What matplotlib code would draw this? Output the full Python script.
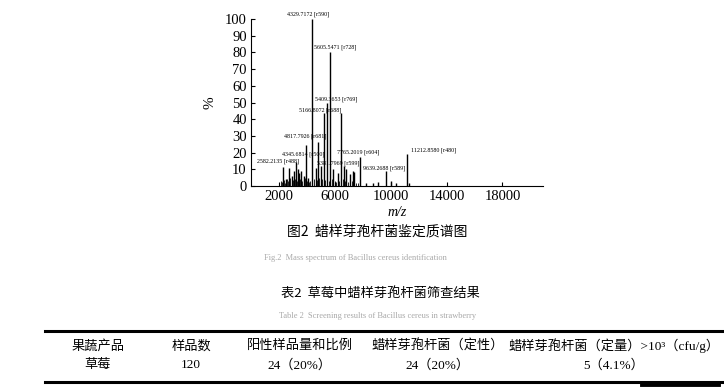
import matplotlib
matplotlib.use("Agg")
import matplotlib.pyplot as plt
from matplotlib.lines import Line2D

plt.rcParams['font.family'] = ['Liberation Serif', 'Noto Sans CJK SC']

# 质谱主峰 (m/z, 相对强度 %)
peak_mz = [2260, 2500, 2740, 2900, 3050, 3200, 3330, 3470, 3600, 3780,
           3950, 4100, 4400, 4640, 4800, 5000, 5190, 5450, 5660, 5900,
           6200, 6430, 6660, 6830, 7100, 7280, 7400, 7810, 8200, 8700,
           9100, 9640, 10000, 10400, 11190, 11300]
peak_int = [11.5, 4, 10.5, 6, 9, 14.5, 10, 8, 9, 6,
            24.5, 5, 100, 11, 26.5, 12, 44, 50, 80, 10,
            8, 43.5, 12, 10, 7, 9, 8.5, 17.5, 2, 1.5,
            2.5, 9, 3, 2, 19, 2]

# 基线附近的小峰
small_mz = [2150, 2200, 2350, 2420, 2580, 2650, 2820, 2980, 3120, 3260,
            3400, 3520, 3680, 3850, 4020, 4180, 4250, 4520, 4700, 4900,
            5080, 5300, 5550, 5780, 6000, 6100, 6320, 6550, 6750, 6950,
            7200, 7500, 7650]
small_int = [3, 2.5, 3.5, 2, 4, 3, 5, 3.5, 4, 3,
             5, 4, 3, 4.5, 3, 2.5, 3, 4, 3.5, 5,
             4, 3.5, 3, 4, 3, 2.5, 3, 4, 3, 2.5,
             3, 2, 1.5]

# 峰标注: 文字, x, y
ann_text = ["4329.7172 [r590]", "5605.5471 [r728]", "5409.3653 [r769]",
            "5166.8072 [r688]", "4817.7926 [r681]", "4345.6814 [r500]",
            "2582.2135 [r488]", "5381.7969 [r599]", "7765.2019 [r604]",
            "9639.2688 [r589]", "11212.8580 [r480]"]
ann_x = [4070, 6000, 6070, 4930, 3860, 3710, 1930, 6210, 7640, 9500, 13070]
ann_y = [103, 83, 52, 45.5, 30, 19, 15, 13.8, 20, 10.8, 21.5]

xticks = [2000, 6000, 10000, 14000, 18000]
yticks = list(range(0, 101, 10))

# 表格
col_header = ["果蔬产品", "样品数", "阳性样品量和比例", "蜡样芽孢杆菌（定性）",
              "蜡样芽孢杆菌（定量）>10³（cfu/g）"]
row_values = ["草莓", "120", "24（20%）", "24（20%）", "5（4.1%）"]
col_x = [98, 191, 300, 438, 614]

W, H = 724, 388
fig = plt.figure(figsize=(W / 100, H / 100), dpi=100)


def fx(px):
    return px / W


def fy(py):
    return 1 - py / H


ax = fig.add_axes([fx(251), fy(186), fx(543) - fx(251), fy(19) - fy(186)])
ax.vlines(small_mz, 0, small_int, color='black', linewidth=0.6)
ax.vlines(peak_mz, 0, peak_int, color='black', linewidth=1.0)
for t, x, y in zip(ann_text, ann_x, ann_y):
    ax.text(x, y, t, fontsize=4.3, ha='center', va='center', clip_on=False)

ax.set_xlim(0, 20900)
ax.set_ylim(0, 100)
ax.set_xticks(xticks)
ax.set_yticks(yticks)
ax.tick_params(direction='in', length=3, labelsize=10.5, pad=3)
for s in ['top', 'right']:
    ax.spines[s].set_visible(False)
ax.set_ylabel('%', fontsize=11, labelpad=6)
ax.set_xlabel('m/z', fontsize=10, style='italic', labelpad=2)

# 图注
fig.text(fx(377), fy(232), "图2  蜡样芽孢杆菌鉴定质谱图", fontsize=10,
         family=['Noto Sans CJK SC'], ha='center', va='center')
fig.text(fx(355), fy(258), "Fig.2  Mass spectrum of Bacillus cereus identification",
         fontsize=6, color='#a8a8a8', ha='center', va='center')

# 表题
fig.text(fx(380), fy(293), "表2  草莓中蜡样芽孢杆菌筛查结果", fontsize=9.5,
         family=['Noto Sans CJK SC'], ha='center', va='center')
fig.text(fx(378), fy(316), "Table 2  Screening results of Bacillus cereus in strawberry",
         fontsize=6, color='#a8a8a8', ha='center', va='center')

# 表格线
fig.add_artist(Line2D([fx(45), fx(724)], [fy(331), fy(331)], color='black', linewidth=2.2))
fig.add_artist(Line2D([fx(45), fx(724)], [fy(382), fy(382)], color='black', linewidth=2.2))
fig.add_artist(Line2D([fx(642), fx(718)], [fy(384), fy(384)], color='black', linewidth=3.5))

for x, h, v in zip(col_x, col_header, row_values):
    fig.text(fx(x), fy(346), h, fontsize=9.5, ha='center', va='center')
    fig.text(fx(x), fy(365), v, fontsize=9.5, ha='center', va='center')

fig.savefig('out.png', dpi=100, facecolor='white')
